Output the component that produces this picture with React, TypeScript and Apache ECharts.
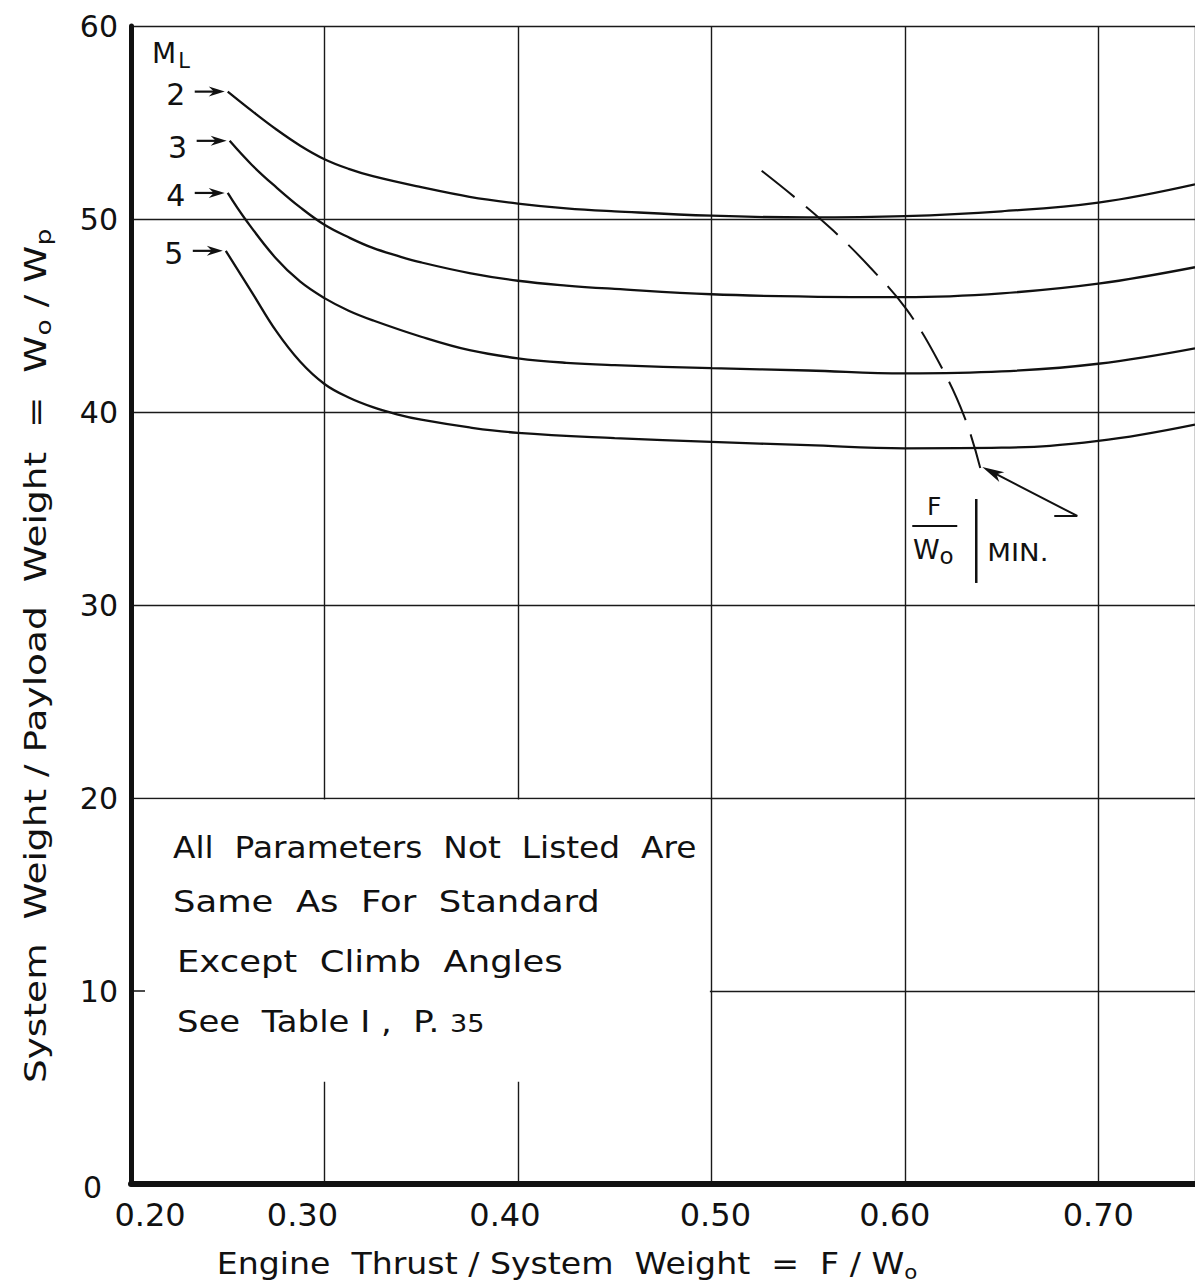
import React, { useEffect, useRef } from "react";
import * as echarts from "echarts";

const FONT = "DejaVu Sans";
const INK = "#111111";

// System weight ratio W0/Wp against thrust ratio F/W0, one curve per launch Mach number M_L
const machNumbers = ["2", "3", "4", "5"];

const mach2: number[][] = [
  [0.25, 56.6], [0.2625, 55.6], [0.275, 54.65], [0.2875, 53.8], [0.3, 53.1], [0.3125, 52.6],
  [0.325, 52.22], [0.35, 51.65], [0.375, 51.15], [0.4, 50.8], [0.425, 50.55], [0.45, 50.4],
  [0.5, 50.17], [0.55, 50.08], [0.6, 50.15], [0.65, 50.4], [0.7, 50.85], [0.75, 51.8],
];
const mach3: number[][] = [
  [0.251, 54.05], [0.2625, 52.8], [0.275, 51.65], [0.2875, 50.6], [0.3, 49.7], [0.3125, 49.05],
  [0.325, 48.5], [0.3375, 48.1], [0.35, 47.75], [0.375, 47.2], [0.4, 46.8], [0.425, 46.55],
  [0.45, 46.38], [0.5, 46.1], [0.55, 45.98], [0.6, 45.95], [0.65, 46.15], [0.7, 46.65],
  [0.75, 47.5],
];
const mach4: number[][] = [
  [0.25, 51.35], [0.259, 50.0], [0.275, 47.95], [0.2875, 46.75], [0.3, 45.9], [0.3125, 45.25],
  [0.325, 44.75], [0.35, 43.9], [0.375, 43.2], [0.4, 42.78], [0.425, 42.55], [0.45, 42.43],
  [0.5, 42.27], [0.55, 42.15], [0.6, 42.0], [0.65, 42.1], [0.7, 42.5], [0.75, 43.3],
];
const mach5: number[][] = [
  [0.249, 48.35], [0.2625, 46.2], [0.275, 44.2], [0.2875, 42.6], [0.3, 41.45], [0.3125, 40.75],
  [0.325, 40.25], [0.3375, 39.88], [0.35, 39.6], [0.375, 39.2], [0.4, 38.92], [0.45, 38.65],
  [0.5, 38.45], [0.55, 38.28], [0.6, 38.12], [0.65, 38.15], [0.7, 38.5], [0.75, 39.35],
];

// Locus of minimum thrust ratio (dashed)
const minThrustLocus: number[][] = [
  [0.526, 52.5], [0.544, 51.05], [0.563, 49.4], [0.582, 47.5], [0.601, 45.3],
  [0.618, 42.5], [0.631, 39.7], [0.639, 37.1],
];

const xTickLabels = ["0.20", "0.30", "0.40", "0.50", "0.60", "0.70"];
// lettering offsets of the hand-placed tick labels (px, + = right)
const xTickShift = [19, -22, -13, 4, -10, 0];

const noteLines = [
  "All  Parameters  Not  Listed  Are",
  "Same  As  For  Standard",
  "Except  Climb  Angles",
  "See  Table I ,  P. {s|35}",
];
const noteStretch = [1.095, 1.18, 1.18, 1.13];
const noteIndent = [0, 0, 4, 4];
const noteOffsets = [50, 104, 164, 224];

const xTitle = "Engine  Thrust / System  Weight  =  F / W{s|o}";
const yTitle = "System  Weight / Payload  Weight  =  W{s|o} / W{s|p}";

export default function App() {
  const ref = useRef<HTMLDivElement>(null);

  useEffect(() => {
    document.body.style.margin = "0";
    const chart = echarts.init(ref.current!, null, { renderer: "svg" });

    const curves = [mach2, mach3, mach4, mach5];

    const tickRich: Record<string, any> = {};
    xTickShift.forEach((s, i) => {
      tickRich["t" + i] = {
        fontFamily: FONT,
        fontSize: 32,
        color: INK,
        padding: s >= 0 ? [0, 0, 0, 2 * s] : [0, -2 * s, 0, 0],
      };
    });

    chart.setOption({
      animation: false,
      backgroundColor: "#ffffff",
      grid: { left: 131, top: 26, width: 1067, height: 1158, containLabel: false },
      xAxis: {
        type: "value",
        min: 0.2,
        max: 0.75,
        interval: 0.1,
        axisLine: { show: true, lineStyle: { color: INK, width: 6 } },
        axisTick: { show: false },
        splitLine: { show: true, lineStyle: { color: "#1a1a1a", width: 1.4 } },
        axisLabel: {
          color: INK,
          fontFamily: FONT,
          fontSize: 32,
          margin: 15,
          showMaxLabel: false,
          formatter: (v: number) => {
            const r = Math.round(v * 100) / 100;
            const idx = xTickLabels.indexOf(r.toFixed(2));
            return idx >= 0 ? "{t" + idx + "|" + xTickLabels[idx] + "}" : "";
          },
          rich: tickRich,
        },
      },
      yAxis: {
        type: "value",
        min: 0,
        max: 60,
        interval: 10,
        axisLine: { show: true, lineStyle: { color: INK, width: 5 } },
        axisTick: { show: false },
        splitLine: { show: true, lineStyle: { color: "#1a1a1a", width: 1.4 } },
        axisLabel: {
          color: INK,
          fontFamily: FONT,
          fontSize: 30,
          margin: 13,
          formatter: (v: number) => (v === 0 ? "{z|0}" : String(v)),
          rich: { z: { fontFamily: FONT, fontSize: 30, color: INK, padding: [6, 16, 0, 0] } },
        },
      },
      series: [
        ...curves.map((d, i) => ({
          name: "M_L = " + machNumbers[i],
          type: "line",
          data: d,
          showSymbol: false,
          smooth: 0.4,
          z: 3,
          lineStyle: { color: INK, width: 2.3 },
        })),
        {
          name: "F/W0 min",
          type: "line",
          data: minThrustLocus,
          showSymbol: false,
          smooth: 0.4,
          z: 3,
          lineStyle: { color: INK, width: 2, type: [42, 15] },
        },
      ],
    });

    const P = (x: number, y: number) =>
      chart.convertToPixel({ gridIndex: 0 }, [x, y]) as number[];

    const g: any[] = [];

    // blank panel holding the note, with the axis tick at 10 left visible
    const [x0, y20] = P(0.2, 20);
    const [x5, yLow] = P(0.5, 5.3);
    const [, y10] = P(0.2, 10);
    g.push({
      type: "rect",
      z: 1,
      shape: { x: x0 + 3, y: y20 + 1.5, width: x5 - 1.5 - (x0 + 3), height: yLow - (y20 + 1.5) },
      style: { fill: "#ffffff" },
    });
    g.push({
      type: "line",
      z: 1,
      shape: { x1: x0, y1: y10, x2: x0 + 14, y2: y10 },
      style: { stroke: INK, lineWidth: 1.5 },
    });

    noteLines.forEach((t, i) => {
      g.push({
        type: "text",
        z: 4,
        x: x0 + 42 + noteIndent[i],
        y: y20 + noteOffsets[i],
        scaleX: noteStretch[i],
        style: {
          text: t,
          fontFamily: FONT,
          fontSize: 30,
          fill: INK,
          textAlign: "left",
          textVerticalAlign: "middle",
          rich: { s: { fontFamily: FONT, fontSize: 24, fill: INK, padding: [4, 0, 0, 0] } },
        },
      });
    });

    // M_L header and curve labels with pointer arrows
    const [, y60] = P(0.2, 60);
    g.push({
      type: "text",
      z: 4,
      x: x0 + 21,
      y: y60 + 27,
      style: {
        text: "M{s|L}",
        fontFamily: FONT,
        fontSize: 28,
        fill: INK,
        textAlign: "left",
        textVerticalAlign: "middle",
        rich: { s: { fontFamily: FONT, fontSize: 21, fill: INK, padding: [16, 0, 0, 2] } },
      },
    });
    curves.forEach((d, i) => {
      const [sx, sy] = P(d[0][0], d[0][1]);
      const tipX = sx - 3;
      const tipY = sy;
      g.push({
        type: "line",
        z: 4,
        shape: { x1: tipX - 30, y1: tipY, x2: tipX - 8, y2: tipY },
        style: { stroke: INK, lineWidth: 2.2 },
      });
      g.push({
        type: "polygon",
        z: 4,
        shape: {
          points: [
            [tipX, tipY],
            [tipX - 16, tipY - 5],
            [tipX - 11, tipY],
            [tipX - 16, tipY + 5],
          ],
        },
        style: { fill: INK },
      });
      g.push({
        type: "text",
        z: 4,
        x: tipX - 49,
        y: tipY + 3 + (i === 1 ? 4 : 0),
        style: {
          text: machNumbers[i],
          fontFamily: FONT,
          fontSize: 30,
          fill: INK,
          textAlign: "center",
          textVerticalAlign: "middle",
        },
      });
    });

    // Pointer from the F/W0|min label to the end of the dashed locus
    const last = minThrustLocus[minThrustLocus.length - 1];
    const [ex, ey] = P(last[0], last[1]);
    const tip = [ex + 2, ey - 1];
    const tail = [ex + 97, ey + 48];
    const dx = tip[0] - tail[0];
    const dy = tip[1] - tail[1];
    const len = Math.sqrt(dx * dx + dy * dy);
    const ux = dx / len;
    const uy = dy / len;
    const hl = 22;
    const hw = 5.5;
    g.push({
      type: "polyline",
      z: 4,
      shape: { points: [[ex + 74, ey + 48], tail, [tip[0] - ux * 12, tip[1] - uy * 12]] },
      style: { stroke: INK, lineWidth: 2, fill: null },
    });
    g.push({
      type: "polygon",
      z: 4,
      shape: {
        points: [
          tip,
          [tip[0] - ux * hl - uy * hw, tip[1] - uy * hl + ux * hw],
          [tip[0] - ux * (hl - 6), tip[1] - uy * (hl - 6)],
          [tip[0] - ux * hl + uy * hw, tip[1] - uy * hl - ux * hw],
        ],
      },
      style: { fill: INK },
    });
    g.push({
      type: "text",
      z: 4,
      x: ex - 46,
      y: ey + 39,
      style: {
        text: "F",
        fontFamily: FONT,
        fontSize: 25,
        fill: INK,
        textAlign: "center",
        textVerticalAlign: "middle",
      },
    });
    g.push({
      type: "line",
      z: 4,
      shape: { x1: ex - 68, y1: ey + 58, x2: ex - 23, y2: ey + 58 },
      style: { stroke: INK, lineWidth: 2 },
    });
    g.push({
      type: "text",
      z: 4,
      x: ex - 47,
      y: ey + 82,
      style: {
        text: "W{s|o}",
        fontFamily: FONT,
        fontSize: 27,
        fill: INK,
        textAlign: "center",
        textVerticalAlign: "middle",
        rich: { s: { fontFamily: FONT, fontSize: 23, fill: INK, padding: [12, 0, 0, 0] } },
      },
    });
    g.push({
      type: "line",
      z: 4,
      shape: { x1: ex - 4, y1: ey + 31, x2: ex - 4, y2: ey + 115 },
      style: { stroke: INK, lineWidth: 2.5 },
    });
    g.push({
      type: "text",
      z: 4,
      x: ex + 7,
      y: ey + 84,
      scaleX: 1.1,
      style: {
        text: "MIN.",
        fontFamily: FONT,
        fontSize: 25,
        fill: INK,
        textAlign: "left",
        textVerticalAlign: "middle",
      },
    });

    // Axis titles
    g.push({
      type: "text",
      z: 4,
      x: 567,
      y: 1263,
      scaleX: 1.07,
      style: {
        text: xTitle,
        fontFamily: FONT,
        fontSize: 31,
        fill: INK,
        textAlign: "center",
        textVerticalAlign: "middle",
        rich: { s: { fontFamily: FONT, fontSize: 20, fill: INK, padding: [18, 0, 0, 0] } },
      },
    });
    g.push({
      type: "text",
      z: 4,
      x: 35,
      y: 656,
      rotation: Math.PI / 2,
      scaleX: 1.21,
      style: {
        text: yTitle,
        fontFamily: FONT,
        fontSize: 31,
        fill: INK,
        textAlign: "center",
        textVerticalAlign: "middle",
        rich: { s: { fontFamily: FONT, fontSize: 22, fill: INK, padding: [16, 0, 0, 0] } },
      },
    });

    chart.setOption({ graphic: { elements: g } });

    return () => chart.dispose();
  }, []);

  return <div ref={ref} style={{ width: 1195, height: 1287 }} />;
}
